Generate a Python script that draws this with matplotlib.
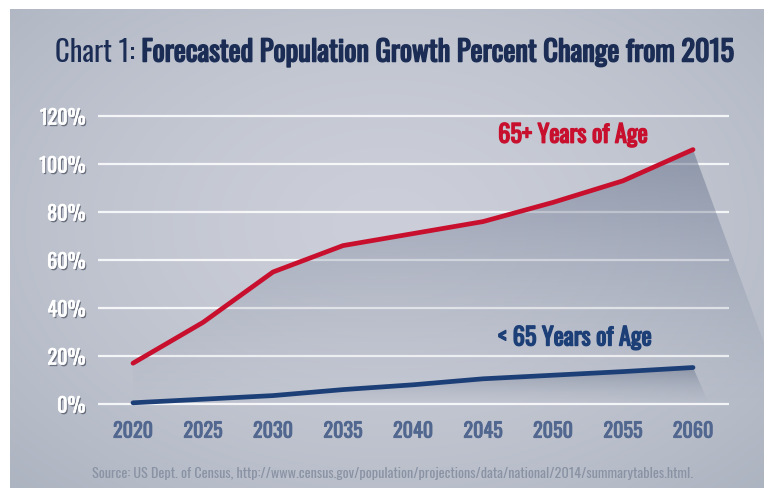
import matplotlib
matplotlib.use("Agg")
import matplotlib.pyplot as plt
import matplotlib.patheffects as pe
from matplotlib import font_manager
from matplotlib.patches import Polygon
import numpy as np

years = [2020, 2025, 2030, 2035, 2040, 2045, 2050, 2055, 2060]
over_65 = [17, 34, 55, 66, 71, 76, 84, 93, 106]
under_65 = [0.5, 2, 3.5, 6, 8, 10.5, 12, 13.5, 15.2]
y_ticks = [0, 20, 40, 60, 80, 100, 120]
y_labels = ["0%", "20%", "40%", "60%", "80%", "100%", "120%"]

title_light = "Chart 1: "
title_bold = "Forecasted Population Growth Percent Change from 2015"
source = "Source: US Dept. of Census, http://www.census.gov/population/projections/data/national/2014/summarytables.html."

# condensed face like the original, if the machine has one
fl = font_manager.fontManager.ttflist
names = {f.name for f in fl}
main_font = "DejaVu Sans"
for cand in ["Oswald", "Barlow Condensed", "Liberation Sans Narrow"]:
    if cand in names:
        main_font = cand
        break
fam = [main_font, "DejaVu Sans"]
weights = {f.weight for f in fl if f.name == main_font}
has_bold = any(w >= 600 for w in weights if isinstance(w, int))


def heavy(color, amount):
    # fake a heavier weight with a thin outline when no bold file is installed
    if has_bold:
        return []
    return [pe.withStroke(linewidth=amount, foreground=color)]


navy = "#1b2d55"
red = "#c8102e"
blue = "#1d3f77"
tick_blue = "#51678f"

W, H = 764, 488
fig = plt.figure(figsize=(W / 100, H / 100), dpi=100, facecolor="white")

# background panel with soft radial gradient
bg = fig.add_axes([10 / W, 0, 1 - 10 / W, 1 - 9 / H])
bg.set_axis_off()
yy, xx = np.mgrid[0:1:300j, 0:1:460j]
r = np.sqrt(((xx - 0.5) / 0.75) ** 2 + ((yy - 0.45) / 0.8) ** 2)
r = np.clip(r, 0, 1)
c_in = np.array([0.80, 0.81, 0.85])
c_out = np.array([0.67, 0.70, 0.75])
img = c_in[None, None, :] * (1 - r[..., None] ** 1.5) + c_out[None, None, :] * r[..., None] ** 1.5
bg.imshow(img, aspect="auto", extent=[0, 1, 0, 1], origin="upper")
bg.set_xlim(0, 1)
bg.set_ylim(0, 1)

ax = fig.add_axes([98 / W, 1 - 404 / H, (W - 98) / W, 288 / H])
ax.set_facecolor("none")
x0 = 2017.5
x_grid_end = 2062.57
ax.set_xlim(x0, x0 + (W - 98) / 14)
ax.set_ylim(0, 120)
for s in ax.spines.values():
    s.set_visible(False)
ax.tick_params(length=0)

for t in y_ticks:
    ax.hlines(t, x0, x_grid_end, color="white", lw=1.6, alpha=0.85, clip_on=False, zorder=1)

# shadow under the 65+ line, running off to the right
slope = (25.4 - over_65[-1]) / 5.07
x_end = years[-1] - over_65[-1] / slope
poly = Polygon(list(zip(years, over_65)) + [(x_end, 0), (years[0], 0)], closed=True,
               facecolor="none", edgecolor="none", transform=ax.transData)
ax.add_patch(poly)
grad = np.linspace(1, 0, 200) ** 1.3
rgba = np.zeros((200, 2, 4))
rgba[..., :3] = np.array([0.40, 0.45, 0.55])
rgba[..., 3] = (0.55 * grad)[:, None]
im = ax.imshow(rgba, aspect="auto", extent=[years[0], x_end, 0, over_65[-1]],
               origin="upper", zorder=2)
im.set_clip_path(poly)

# small shadow under the <65 line
poly2 = Polygon(list(zip(years, under_65)) + [(2061.0, 2.0), (2061.3, 0), (years[0], 0)], closed=True,
                facecolor="none", edgecolor="none", transform=ax.transData)
ax.add_patch(poly2)
g2 = np.linspace(1, 0, 100) ** 1.5
rgba2 = np.zeros((100, 2, 4))
rgba2[..., :3] = np.array([0.35, 0.40, 0.50])
rgba2[..., 3] = (0.45 * g2)[:, None]
im2 = ax.imshow(rgba2, aspect="auto", extent=[years[0], 2061.3, 0, under_65[-1]],
                origin="upper", zorder=2)
im2.set_clip_path(poly2)

ax.plot(years, over_65, color=red, lw=3.4, solid_capstyle="round", solid_joinstyle="round",
        zorder=4, clip_on=False)
ax.plot(years, under_65, color=blue, lw=3.4, solid_capstyle="round", solid_joinstyle="round",
        zorder=4, clip_on=False)

ax.set_xticks(years)
ax.set_xticklabels([str(y) for y in years], family=fam, weight="semibold", fontsize=14.5,
                   color=tick_blue)
for lab in ax.get_xticklabels():
    lab.set_path_effects(heavy(tick_blue, 0.6))
ax.tick_params(axis="x", pad=12)
ax.set_yticks(y_ticks)
ax.set_yticklabels(y_labels, family=fam, fontsize=14.5, color="white")
ax.tick_params(axis="y", pad=9)
shadow = [pe.SimplePatchShadow(offset=(1, -1.2), shadow_rgbFace="#2a3040", alpha=0.55),
          pe.withStroke(linewidth=0.5, foreground="white")]
for lab in ax.get_yticklabels():
    lab.set_path_effects(shadow)

lab1 = ax.text(years[6] - 3.92, 112, "65+ Years of Age", family=fam, weight="bold",
               fontsize=18, color=red, ha="left", va="center", zorder=5,
               path_effects=heavy(red, 1.0))
lab2 = ax.text(years[6] - 3.92, 27.5, "< 65 Years of Age", family=fam, weight="bold",
               fontsize=18, color=blue, ha="left", va="center", zorder=5,
               path_effects=heavy(blue, 1.0))

t1 = fig.text(55 / W, 1 - 52 / H, title_light, family=fam, weight="light", fontsize=22,
              color=navy, ha="left", va="center")
t2 = fig.text(0, 1 - 52 / H, title_bold, family=fam, weight="bold", fontsize=22, color=navy,
              ha="left", va="center", path_effects=heavy(navy, 1.1))
src = fig.text(92 / W, 1 - 474 / H, source, family=fam, weight="light", fontsize=10.5,
               color="#8a93a4", ha="left", va="center")

# fit text widths to the target pixel widths
fig.canvas.draw()
rend = fig.canvas.get_renderer()


def fit(txt, target):
    w = txt.get_window_extent(rend).width
    txt.set_fontsize(txt.get_fontsize() * target / w)


fit(lab1, 150)
fit(lab2, 154)
fit(src, 605)
w1 = t1.get_window_extent(rend).width
w2 = t2.get_window_extent(rend).width
k = 680 / (w1 + w2)
t1.set_fontsize(t1.get_fontsize() * k)
t2.set_fontsize(t2.get_fontsize() * k)
fig.canvas.draw()
w1 = t1.get_window_extent(rend).width
t2.set_x((55 + w1) / W)

fig.savefig("out.png", dpi=100, facecolor="white")
